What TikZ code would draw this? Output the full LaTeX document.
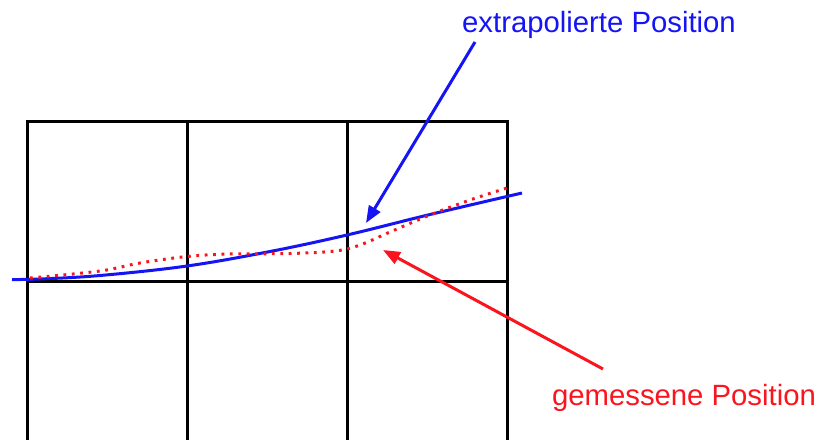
\documentclass[tikz,border=0pt]{standalone}
\usepackage{fontspec}
\setmainfont{Liberation Sans}
\usetikzlibrary{arrows.meta}
\definecolor{myblue}{RGB}{20,20,245}
\definecolor{myred}{RGB}{250,20,30}
\tikzset{
  gridline/.style={line width=3pt, black},
  bluecurve/.style={line width=3pt, myblue},
  redcurve/.style={line width=3pt, myred, dash pattern=on 2.8pt off 5.6pt},
  pointer/.style={line width=3pt, -{Triangle[length=17pt,width=13pt]}},
  lbl/.style={font=\fontsize{29.3}{33}\selectfont, inner sep=0pt, anchor=base}
}
\begin{document}
\begin{tikzpicture}[x=1pt,y=-1pt]
\useasboundingbox (0,0) rectangle (818,439);
% grid
\foreach \x in {27,187,347,507} \draw[gridline] (\x,121) -- (\x,445);
\draw[gridline] (25.5,121) -- (508.5,121);
\draw[gridline] (27,281) -- (507,281);
% blue extrapolated curve
\draw[bluecurve] plot[smooth, tension=0.6] coordinates {(12,279.5) (40,279) (100,275.5) (187,266) (270,251.5) (347,235) (430,214.5) (522,193)};
% red measured curve
\draw[redcurve] plot[smooth, tension=0.6] coordinates {(30,278) (100,271) (140,263) (187,256.5) (230,254) (290,253.5) (335,251) (360,245) (390,232) (430,215) (470,200) (507,188)};
% labels
\node[lbl, text=myblue] (ext) at (599,32) {extrapolierte Position};
\node[lbl, text=myred] (mes) at (684,405) {gemessene Position};
\coordinate (extstart) at (475,42);
\coordinate (exttip) at (366,223);
\coordinate (messtart) at (603,369);
\coordinate (mestip) at (383,250);
\draw[pointer, myblue] (extstart) -- (exttip);
\draw[pointer, myred] (messtart) -- (mestip);
\end{tikzpicture}
\end{document}
